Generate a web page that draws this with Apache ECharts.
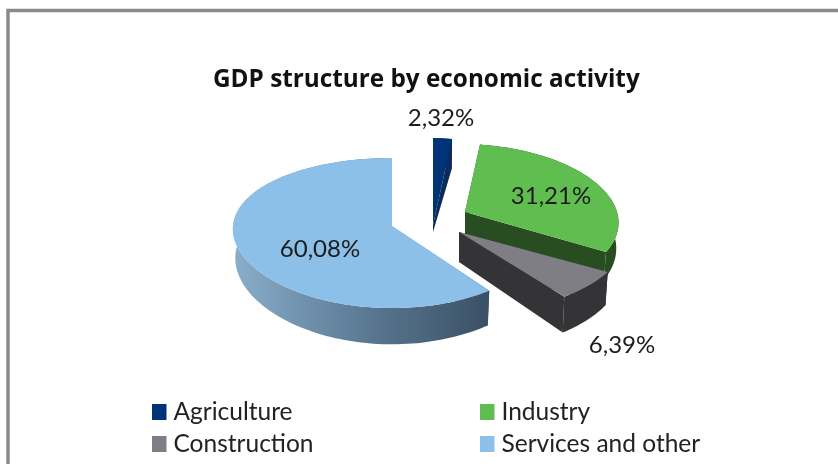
<!DOCTYPE html>
<html><head><meta charset="utf-8">
<style>html,body{margin:0;padding:0;background:#fff}#c{width:838px;height:464px}</style>
<script src="https://cdn.jsdelivr.net/npm/echarts@6/dist/echarts.min.js"></script>
</head><body><div id="c"></div>
<script>
const categories = ['Agriculture', 'Industry', 'Construction', 'Services and other'];
const shares = [2.32, 31.21, 6.39, 60.08];
const titleText = 'GDP structure by economic activity';

// appearance of each slice, same order as categories
const topColors = ['#003478', '#60BE50', '#7F7E84', '#8DC0E8'];
const wallColors = ['#0C2A5A', '#274D20', '#343436',
  {type:'linear',x:0,y:0,x2:1,y2:0,colorStops:[{offset:0,color:'#8AAECB'},{offset:0.55,color:'#587690'},{offset:1,color:'#3A5064'}]}];
const apexes = [[433,225],[465,212],[459,232],[392,226]];
const radii = [136,152,165,159];
const tilts = [95,74.4,74.4,74.4];
const walls = [36,25,30,29];
const apexWalls = [7,25,30,29];
const perspX = [0.04,0.11,0.09,0.04];
const skews = [0,-5,0,0];
const labelPos = [[441,118],[551,196],[622,345],[320,249]];
const legendPos = [[152,399.5],[480,399.5],[152,431.5],[480,431.5]];

const PY = 0.0933, WALLP = 0.2, SHRINK = 0.985;
const FONT = 'Lato, "Open Sans", sans-serif';

function project(i, th, r, low) {
  const s = Math.sin(th) * r, c = Math.cos(th) * r;
  const [ax, ay] = apexes[i];
  const R = radii[i] * (low ? SHRINK : 1);
  return [ax + R * s / (1 + perspX[i] * c) + skews[i] * c,
          ay - tilts[i] * c / (1 + PY * c) + (low ? walls[i] / (1 + WALLP * c) : 0)];
}
function arc(i, a, b, low) {
  const n = Math.max(4, Math.ceil((b - a) / 0.03)), pts = [];
  for (let k = 0; k <= n; k++) pts.push(project(i, a + (b - a) * k / n, 1, low));
  return pts;
}
const total = shares.reduce((x, y) => x + y, 0);
function makeRender(i) {
  return function (params, api) {
    const v = api.value(0);
    let before = 0;
    for (let k = 0; k < i; k++) before += shares[k];
    const a = before / total * 2 * Math.PI, b = a + v / total * 2 * Math.PI;
    const apexT = project(i, 0, 0, false), apexB = [apexT[0], apexT[1] + apexWalls[i]];
    const poly = (points, fill) => ({type:'polygon', shape:{points}, style:{fill, stroke:null}});
    const rimT = arc(i, a, b, false), rimB = arc(i, a, b, true);
    const children = [
      poly([apexT, rimT[0], rimB[0], apexB], wallColors[i]),
      poly([apexT, rimT[rimT.length-1], rimB[rimB.length-1], apexB], wallColors[i]),
      poly(rimT.concat(rimB.slice().reverse()), wallColors[i]),
      poly([apexT].concat(rimT), topColors[i]),
      {type:'text', style:{text: v.toFixed(2).replace('.', ',') + '%', x: labelPos[i][0], y: labelPos[i][1],
        align:'center', verticalAlign:'middle', fill:'#1c1c1c', font:'24px ' + FONT}}
    ];
    return {type:'group', children};
  };
}

const chart = echarts.init(document.getElementById('c'));
chart.setOption({
  animation:false,
  backgroundColor:'#fff',
  title:{text:titleText, left:213, top:68, padding:0,
    textStyle:{fontFamily:'"Open Sans", Lato, sans-serif', fontWeight:'bold', fontSize:24.3, color:'#111'}},
  graphic:[{type:'rect', silent:true, z:-1,
    shape:{x:8,y:10.5,width:900,height:900}, style:{fill:'#fff', stroke:'#8A8A8A', lineWidth:3.5}}],
  legend: categories.map((name, i) => ({
    data:[name], left:legendPos[i][0], top:legendPos[i][1], padding:0, icon:'rect',
    itemWidth:14.5, itemHeight:16, selectedMode:false,
    textStyle:{fontFamily:FONT, fontSize:24.5, color:'#222', padding:[0,0,0,2]}
  })),
  series: categories.map((name, i) => ({
    type:'custom', name, coordinateSystem:'none', silent:true,
    itemStyle:{color:topColors[i]},
    data:[[shares[i]]], renderItem:makeRender(i)
  }))
});
</script></body></html>
